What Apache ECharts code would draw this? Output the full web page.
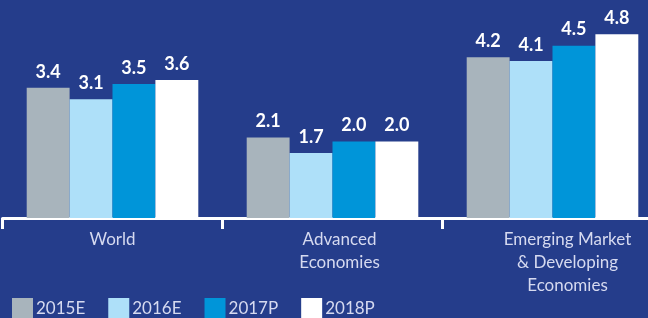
<!DOCTYPE html>
<html>
<head>
<meta charset="utf-8">
<script src="https://cdn.jsdelivr.net/npm/echarts@6/dist/echarts.min.js"></script>
<style>
  html, body { margin: 0; padding: 0; background: #253d8b; }
  #chart { width: 648px; height: 318px; }
</style>
</head>
<body>
<div id="chart"></div>
<script>
var regions = ['World', 'Advanced\nEconomies', 'Emerging Market\n& Developing\nEconomies'];
var years = ['2015E', '2016E', '2017P', '2018P'];
var colors = ['#a8b4bc', '#aee0f9', '#0095d9', '#ffffff'];
var growth = [
  [3.4, 2.1, 4.2],
  [3.1, 1.7, 4.1],
  [3.5, 2.0, 4.5],
  [3.6, 2.0, 4.8]
];

// labels in the original sit a little right of the group centre
var labelShift = [0, 14, 30];

var myChart = echarts.init(document.getElementById('chart'));
var option = {
  backgroundColor: '#253d8b',
  animation: false,
  legend: {
    left: 12,
    top: 298,
    padding: 0,
    itemWidth: 21,
    itemHeight: 21,
    itemGap: 23,
    icon: 'rect',
    textStyle: { color: '#d6daf0', fontSize: 17, fontFamily: 'Lato', padding: [0, 0, 0, -2] },
    data: years
  },
  grid: { left: 2.5, top: 26.5, width: 660, height: 191.5, outerBoundsMode: 'none', containLabel: false },
  xAxis: {
    type: 'category',
    data: regions.map(function (r, i) {
      return { value: r, textStyle: { padding: [0, 0, 0, labelShift[i]] } };
    }),
    axisLine: { lineStyle: { color: '#ffffff', width: 3 } },
    axisTick: { show: true, interval: 0, length: 11, lineStyle: { color: '#ffffff', width: 3 } },
    axisLabel: { color: '#d6daf0', fontSize: 17, fontFamily: 'Lato', lineHeight: 23, margin: 10 }
  },
  yAxis: { type: 'value', min: 0, max: 5, show: false, splitLine: { show: false } },
  series: years.map(function (y, i) {
    return {
      name: y,
      type: 'bar',
      data: growth[i],
      barGap: '0%',
      barCategoryGap: '22%',
      itemStyle: { color: colors[i] },
      label: {
        show: true,
        position: 'top',
        distance: 7,
        color: '#ffffff',
        fontSize: 18,
        fontWeight: 'bold',
        fontFamily: 'Lato',
        formatter: function (p) { return p.value.toFixed(1); }
      }
    };
  })
};
myChart.setOption(option);
</script>
</body>
</html>
